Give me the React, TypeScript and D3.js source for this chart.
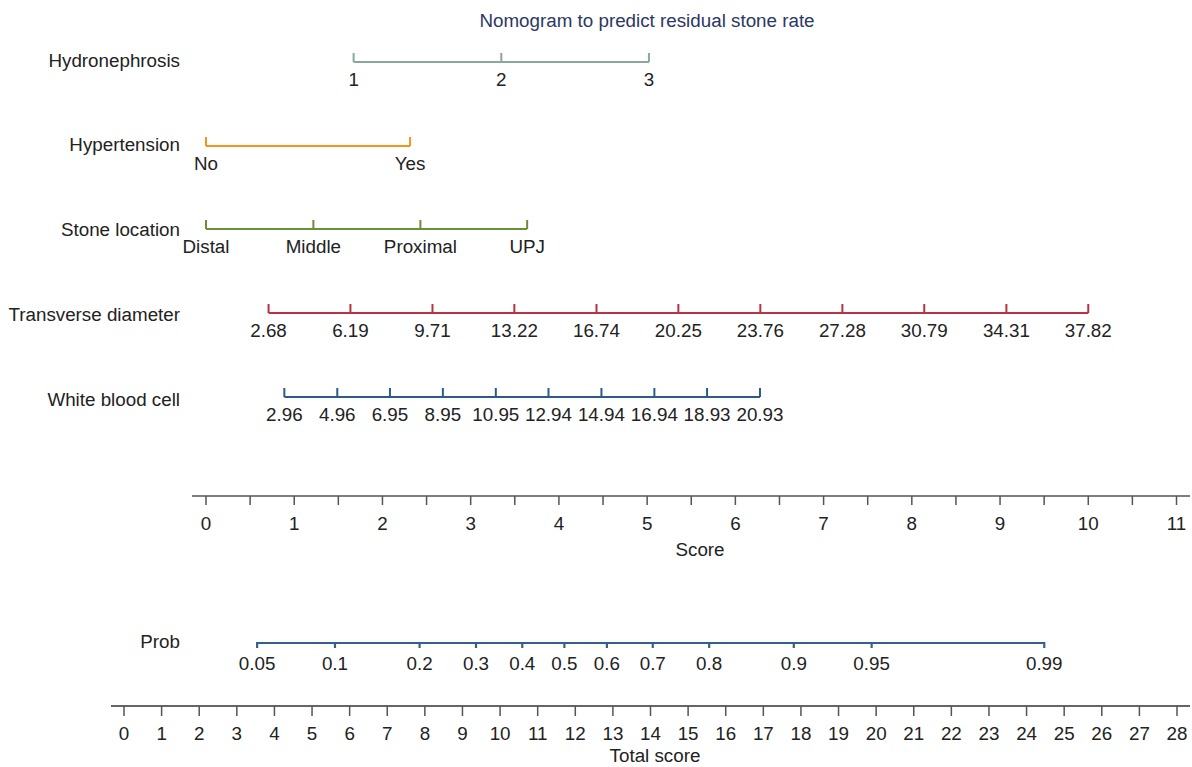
import React from "react";
import * as d3 from "d3";

// Nomogram values (points are in "Score" units)
const hydroLabels = ["1", "2", "3"];
const hydroPoints = [1.673, 3.347, 5.02];

const hyperLabels = ["No", "Yes"];
const hyperPoints = [0, 2.313];

const stoneLabels = ["Distal", "Middle", "Proximal", "UPJ"];
const stonePoints = [0, 1.217, 2.43, 3.64];

const transLabels = ["2.68", "6.19", "9.71", "13.22", "16.74", "20.25", "23.76", "27.28", "30.79", "34.31", "37.82"];
const transPoints = [0.709, 1.637, 2.567, 3.495, 4.426, 5.354, 6.283, 7.213, 8.141, 9.072, 10.0];

const wbcLabels = ["2.96", "4.96", "6.95", "8.95", "10.95", "12.94", "14.94", "16.94", "18.93", "20.93"];
const wbcPoints = [0.888, 1.488, 2.085, 2.685, 3.285, 3.882, 4.482, 5.082, 5.679, 6.279];

const probLabels = ["0.05", "0.1", "0.2", "0.3", "0.4", "0.5", "0.6", "0.7", "0.8", "0.9", "0.95", "0.99"];
const probTotals = [3.54, 5.61, 7.86, 9.36, 10.59, 11.71, 12.84, 14.06, 15.56, 17.81, 19.88, 24.47];

const scoreTicks = d3.range(0, 12);
const scoreMinor = d3.range(0.5, 11, 1);
const totalTicks = d3.range(0, 29);

const FONT = "'Liberation Sans', Arial, Helvetica, sans-serif";
const FS = 18.8;
const TXT = "#222";

export default function App() {
  const width = 1192;
  const height = 767;

  const scoreX = d3.scaleLinear().domain([0, 11]).range([206, 1176.5]);
  const totalX = d3.scaleLinear().domain([0, 28]).range([124, 1177]);

  const rows = [
    { name: "Hydronephrosis", labels: hydroLabels, pts: hydroPoints, color: "#8aa897", y: 62, ny: 60 },
    { name: "Hypertension", labels: hyperLabels, pts: hyperPoints, color: "#f7941d", y: 146, ny: 144 },
    { name: "Stone location", labels: stoneLabels, pts: stonePoints, color: "#6b8f34", y: 229, ny: 229 },
    { name: "Transverse diameter", labels: transLabels, pts: transPoints, color: "#b8323f", y: 313, ny: 314 },
    { name: "White blood cell", labels: wbcLabels, pts: wbcPoints, color: "#2f5a88", y: 397, ny: 399 },
  ];

  const scoreY = 496;
  const probY = 643;
  const totalY = 706;

  return (
    <svg width={width} height={height} style={{ position: "absolute", left: 0, top: 0 }} fontFamily={FONT}>
      <rect width={width} height={height} fill="#fff" />
      <text x={647} y={20} dy="0.35em" textAnchor="middle" fontSize={FS} fill="#2b3764">
        Nomogram to predict residual stone rate
      </text>

      {rows.map((r) => (
        <g key={r.name}>
          <text x={180} y={r.ny} dy="0.35em" textAnchor="end" fontSize={FS} fill={TXT}>
            {r.name}
          </text>
          <line
            x1={scoreX(r.pts[0])}
            x2={scoreX(r.pts[r.pts.length - 1])}
            y1={r.y}
            y2={r.y}
            stroke={r.color}
            strokeWidth={2}
          />
          {r.pts.map((p, i) => (
            <g key={i}>
              <line x1={scoreX(p)} x2={scoreX(p)} y1={r.y} y2={r.y - 9} stroke={r.color} strokeWidth={2} />
              <text x={scoreX(p)} y={r.y + 17.5} dy="0.35em" textAnchor="middle" fontSize={FS} fill={TXT}>
                {r.labels[i]}
              </text>
            </g>
          ))}
        </g>
      ))}

      {/* Score axis */}
      <line x1={192} x2={1190} y1={scoreY} y2={scoreY} stroke="#555" strokeWidth={1.5} />
      {scoreTicks.concat(scoreMinor).map((t) => (
        <line key={t} x1={scoreX(t)} x2={scoreX(t)} y1={scoreY} y2={scoreY + 9} stroke="#555" strokeWidth={1.5} />
      ))}
      {scoreTicks.map((t) => (
        <text key={t} x={scoreX(t)} y={scoreY + 27} dy="0.35em" textAnchor="middle" fontSize={FS} fill={TXT}>
          {t}
        </text>
      ))}
      <text x={700} y={549} dy="0.35em" textAnchor="middle" fontSize={FS} fill={TXT}>
        Score
      </text>

      {/* Prob */}
      <text x={180} y={probY - 2} dy="0.35em" textAnchor="end" fontSize={FS} fill={TXT}>
        Prob
      </text>
      <line
        x1={totalX(probTotals[0])}
        x2={totalX(probTotals[probTotals.length - 1])}
        y1={probY}
        y2={probY}
        stroke="#36608c"
        strokeWidth={2.2}
      />
      {probTotals.map((p, i) => (
        <g key={i}>
          <line x1={totalX(p)} x2={totalX(p)} y1={probY - 1} y2={probY + 5} stroke="#36608c" strokeWidth={2.2} />
          <text x={totalX(p)} y={probY + 20} dy="0.35em" textAnchor="middle" fontSize={FS} fill={TXT}>
            {probLabels[i]}
          </text>
        </g>
      ))}

      {/* Total score axis */}
      <line x1={111} x2={1190} y1={totalY} y2={totalY} stroke="#333" strokeWidth={1.5} />
      {totalTicks.map((t) => (
        <g key={t}>
          <line x1={totalX(t)} x2={totalX(t)} y1={totalY} y2={totalY + 10} stroke="#555" strokeWidth={1.5} />
          <text x={totalX(t)} y={totalY + 27} dy="0.35em" textAnchor="middle" fontSize={FS} fill={TXT}>
            {t}
          </text>
        </g>
      ))}
      <text x={655} y={755} dy="0.35em" textAnchor="middle" fontSize={FS} fill={TXT}>
        Total score
      </text>
    </svg>
  );
}
